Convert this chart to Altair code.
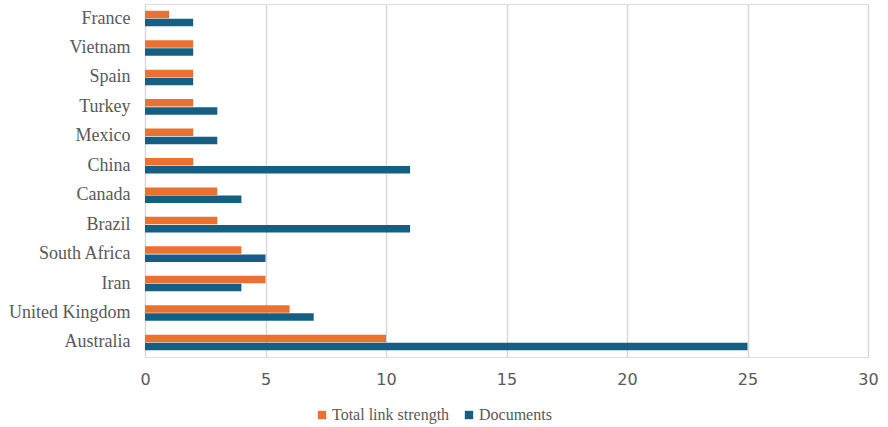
import altair as alt
import pandas as pd

countries = ["France", "Vietnam", "Spain", "Turkey", "Mexico", "China", "Canada",
             "Brazil", "South Africa", "Iran", "United Kingdom", "Australia"]
total_link_strength = [1, 2, 2, 2, 2, 2, 3, 3, 4, 5, 6, 10]
documents = [2, 2, 2, 3, 3, 11, 4, 11, 5, 4, 7, 25]
series = ["Total link strength", "Documents"]
colors = ["#E97132", "#156082"]

rows = []
for c, t, d in zip(countries, total_link_strength, documents):
    rows.append({"country": c, "series": series[0], "value": t})
    rows.append({"country": c, "series": series[1], "value": d})
df = pd.DataFrame(rows)

SERIF = "'Liberation Serif', 'Times New Roman', serif"

chart = alt.Chart(df).mark_bar(size=7.5).encode(
    y=alt.Y("country:N", sort=countries, title=None,
            scale=alt.Scale(paddingInner=0.45, paddingOuter=0.22),
            axis=alt.Axis(labelFont=SERIF, labelFontSize=18,
                          labelColor="#595959", ticks=False, domain=False,
                          labelPadding=15, grid=False)),
    yOffset=alt.YOffset("series:N", sort=series),
    x=alt.X("value:Q", title=None,
            scale=alt.Scale(domain=[0, 30], nice=False),
            axis=alt.Axis(values=[0, 5, 10, 15, 20, 25, 30], labelFont="DejaVu Sans",
                          labelFontSize=16, labelColor="#595959", ticks=False,
                          labelFlush=False,
                          domain=False, labelPadding=14, gridColor="#d9d9d9",
                          gridWidth=1.5)),
    color=alt.Color("series:N", sort=series,
                    scale=alt.Scale(domain=series, range=colors),
                    legend=alt.Legend(title=None, orient="none", direction="horizontal",
                                      legendX=169, legendY=403,
                                      symbolType="square", symbolSize=70,
                                      symbolStrokeWidth=0,
                                      labelFont=SERIF, labelFontSize=16,
                                      labelColor="#595959", columnPadding=11,
                                      labelOffset=2)),
).properties(
    width=723, height=353,
    padding={"left": 145, "top": 4, "right": 20, "bottom": 70},
    autosize=alt.AutoSizeParams(type="none"),
).configure_view(stroke=None).configure(background="white")

chart.save("out.html", embed_options={"renderer": "svg", "actions": False})
